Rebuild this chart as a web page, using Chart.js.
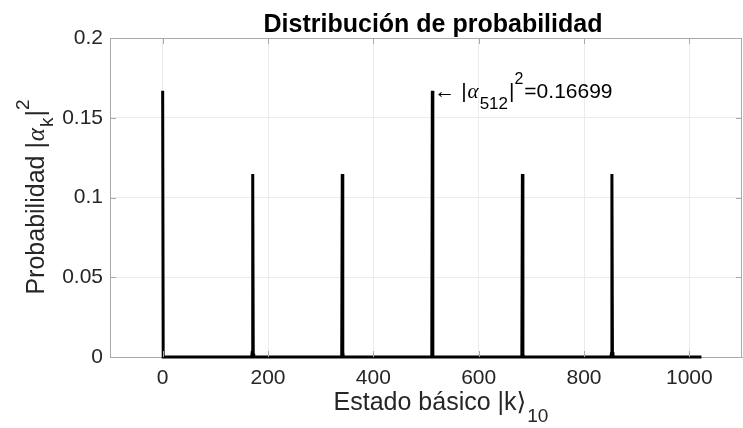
<!DOCTYPE html>
<html>
<head>
<meta charset="utf-8">
<script src="https://cdn.jsdelivr.net/npm/chart.js@4.4.1/dist/chart.umd.min.js"></script>
<style>
  html, body { margin: 0; padding: 0; background: #fff; }
  #wrap { width: 743px; height: 428px; position: relative; }
</style>
</head>
<body>
<div id="wrap"><canvas id="grafico"></canvas></div>
<script>
// Datos
const estados = [0, 1, 169, 170, 171, 172, 173, 339, 340, 341, 342, 343, 511, 512, 513, 681, 682, 683, 684, 685, 851, 852, 853, 854, 855, 1023];
const probabilidad = [0.16699, 0, 0, 0.003, 0.1147, 0.002, 0, 0, 0.002, 0.1147, 0.003, 0, 0, 0.16699, 0, 0, 0.003, 0.1147, 0.002, 0, 0, 0.002, 0.1147, 0.003, 0, 0];
const xTicks = [0, 200, 400, 600, 800, 1000];
const yTicks = [0, 0.05, 0.1, 0.15, 0.2];
const yTickLabels = ['0', '0.05', '0.1', '0.15', '0.2'];
const PICO = 512;

const SANS = '"Liberation Sans", Arial, Helvetica, "DejaVu Sans", sans-serif';
const SERIF = '"Liberation Serif", "DejaVu Serif", serif';
const AXIS_COLOR = '#a9a9a9';
const GRID_COLOR = '#ebebeb';
const TEXT_COLOR = '#262626';

// texto con subíndices / superíndices
function drawRich(ctx, segs, x, y, align) {
    let total = 0;
    segs.forEach(s => { ctx.font = s.font; total += ctx.measureText(s.text).width + (s.gap || 0); });
    let cx = align === 'center' ? x - total / 2 : x;
    ctx.textAlign = 'left';
    ctx.textBaseline = 'alphabetic';
    segs.forEach(s => {
        ctx.font = s.font;
        cx += (s.gap || 0);
        ctx.fillText(s.text, cx, y + (s.dy || 0));
        cx += ctx.measureText(s.text).width;
    });
}

const decoraciones = {
    id: 'decoraciones',
    afterDraw(chart) {
        const ctx = chart.ctx;
        const a = chart.chartArea;
        const xs = chart.scales.x, ys = chart.scales.y;
        ctx.save();

        // caja y marcas interiores
        ctx.strokeStyle = AXIS_COLOR;
        ctx.lineWidth = 1;
        ctx.beginPath();
        ctx.moveTo(a.left, a.top + 0.5); ctx.lineTo(a.right, a.top + 0.5);
        ctx.moveTo(a.right - 0.5, a.top); ctx.lineTo(a.right - 0.5, a.bottom);
        xTicks.forEach(v => {
            const px = Math.round(xs.getPixelForValue(v)) + 0.5;
            ctx.moveTo(px, a.bottom); ctx.lineTo(px, a.bottom - 6);
            ctx.moveTo(px, a.top); ctx.lineTo(px, a.top + 6);
        });
        yTicks.forEach(v => {
            const py = Math.round(ys.getPixelForValue(v)) + 0.5;
            ctx.moveTo(a.left, py); ctx.lineTo(a.left + 6, py);
            ctx.moveTo(a.right, py); ctx.lineTo(a.right - 6, py);
        });
        ctx.stroke();

        ctx.fillStyle = '#000';
        // título
        ctx.font = 'bold 25px ' + SANS;
        ctx.textAlign = 'center';
        ctx.textBaseline = 'alphabetic';
        ctx.fillText('Distribución de probabilidad', 433, 32);

        ctx.fillStyle = TEXT_COLOR;
        // etiqueta x
        drawRich(ctx, [
            { text: 'Estado básico |k⟩', font: '25px ' + SANS },
            { text: '10', font: '19px ' + SANS, dy: 12, gap: 1 }
        ], 441, 410, 'center');

        // etiqueta y
        ctx.save();
        ctx.translate(44, 197);
        ctx.rotate(-Math.PI / 2);
        drawRich(ctx, [
            { text: 'Probabilidad |', font: '25px ' + SANS },
            { text: 'α', font: 'italic 25px ' + SERIF, gap: 1 },
            { text: 'k', font: '19px ' + SANS, dy: 9, gap: 1 },
            { text: '|', font: '25px ' + SANS, gap: 1 },
            { text: '2', font: '19px ' + SANS, dy: -15 }
        ], 0, 0, 'center');
        ctx.restore();

        // anotación del pico en 512
        const iPico = estados.indexOf(PICO);
        const ax = xs.getPixelForValue(estados[iPico]) + 2;
        const ay = ys.getPixelForValue(probabilidad[iPico]) + 7;
        ctx.fillStyle = '#000';
        drawRich(ctx, [
            { text: '← |', font: '21px ' + SANS },
            { text: 'α', font: 'italic 21px ' + SERIF, gap: 1 },
            { text: '512', font: '17px ' + SANS, dy: 11, gap: 1 },
            { text: '|', font: '21px ' + SANS, gap: 1 },
            { text: '2', font: '16px ' + SANS, dy: -14 },
            { text: '=0.16699', font: '21px ' + SANS, gap: 1 }
        ], ax, ay, 'left');

        ctx.restore();
    }
};

const ctx = document.getElementById('grafico').getContext('2d');
new Chart(ctx, {
    type: 'line',
    data: {
        datasets: [{
            data: estados.map((k, i) => ({ x: k, y: probabilidad[i] })),
            borderColor: '#000',
            borderWidth: 3,
            pointRadius: 0,
            tension: 0,
            fill: false,
            clip: false
        }]
    },
    options: {
        responsive: true,
        maintainAspectRatio: false,
        animation: false,
        events: [],
        layout: { padding: { top: 38, left: 0, right: 1, bottom: 0 } },
        plugins: { legend: { display: false }, tooltip: { enabled: false } },
        scales: {
            x: {
                type: 'linear',
                min: -100,
                max: 1100,
                afterBuildTicks: s => { s.ticks = xTicks.map(v => ({ value: v })); },
                afterFit: s => { s.height = 71; },
                grid: { color: GRID_COLOR, drawTicks: false },
                border: { color: AXIS_COLOR },
                ticks: {
                    padding: 9,
                    maxRotation: 0,
                    autoSkip: false,
                    color: TEXT_COLOR,
                    font: { family: SANS, size: 21 },
                    callback: v => String(v)
                }
            },
            y: {
                min: 0,
                max: 0.2,
                afterBuildTicks: s => { s.ticks = yTicks.map(v => ({ value: v })); },
                afterFit: s => { s.width = 110; },
                grid: { color: GRID_COLOR, drawTicks: false },
                border: { color: AXIS_COLOR },
                ticks: {
                    padding: 7,
                    autoSkip: false,
                    color: TEXT_COLOR,
                    font: { family: SANS, size: 21 },
                    callback: v => yTickLabels[yTicks.indexOf(v)] ?? ''
                }
            }
        }
    },
    plugins: [decoraciones]
});
</script>
</body>
</html>
